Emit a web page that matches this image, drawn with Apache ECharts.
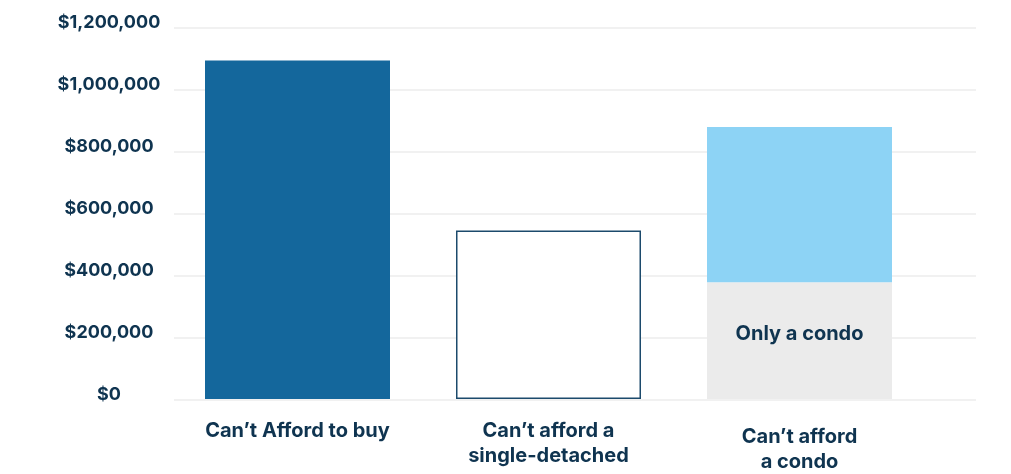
<!DOCTYPE html>
<html>
<head>
<meta charset="utf-8">
<script src="https://cdn.jsdelivr.net/npm/echarts@6/dist/echarts.min.js"></script>
<style>
  html, body { margin: 0; padding: 0; background: #ffffff; }
  #chart { width: 1011px; height: 474px; }
</style>
</head>
<body>
<div id="chart"></div>
<script>
// Affordability thresholds by buyer group
const categories = ["Can’t Afford to buy", "Can’t afford a\nsingle-detached", "Can’t afford\na condo"];
const baseValues = [1095000, 545000, 378000];   // lower segment of each bar
const condoGap = [null, null, 502000];           // upper segment stacked on the condo bar
const insideLabels = ["", "", "Only a condo"];
const yTicks = [0, 200000, 400000, 600000, 800000, 1000000, 1200000];

const yMin = yTicks[0];
const yMax = yTicks[yTicks.length - 1];
const yStep = yTicks[1] - yTicks[0];

const navy = '#0f3450';
const fontFamily = 'Inter, "Noto Sans", sans-serif';

function money(v) {
  return '$' + v.toLocaleString('en-US');
}

const baseStyles = [
  { color: '#14679c' },
  { color: '#ffffff', borderColor: '#1c4a6c', borderWidth: 1.5 },
  { color: '#ebebeb' }
];

const chart = echarts.init(document.getElementById('chart'), null, { renderer: 'canvas' });

chart.setOption({
  backgroundColor: '#ffffff',
  animation: false,
  grid: [
    { left: 174, right: 35, top: 28, bottom: 74 },
    { left: 172, width: 753, top: 28, bottom: 74 }
  ],
  xAxis: [
    { type: 'value', gridIndex: 0, min: 0, max: 1, show: false },
    {
      type: 'category',
      gridIndex: 1,
      data: categories.map((c, i) => i === 2
        ? { value: c, textStyle: { padding: [6, 0, 0, 0] } }
        : c),
      axisLine: { show: false },
      axisTick: { show: false },
      axisLabel: {
        color: navy,
        fontFamily: fontFamily,
        fontWeight: 700,
        fontSize: 20,
        lineHeight: 25,
        margin: 19,
        interval: 0
      }
    }
  ],
  yAxis: [
    {
      type: 'value',
      gridIndex: 0,
      min: yMin,
      max: yMax,
      interval: yStep,
      axisLine: { show: false },
      axisTick: { show: false },
      splitLine: { lineStyle: { color: '#ececec', width: 1.5 } },
      axisLabel: {
        color: navy,
        fontFamily: fontFamily,
        fontWeight: 700,
        fontSize: 18,
        align: 'center',
        verticalAlign: 'bottom',
        lineHeight: 10,
        margin: 65,
        formatter: money
      }
    },
    { type: 'value', gridIndex: 1, min: yMin, max: yMax, interval: yStep, show: false }
  ],
  series: [
    {
      type: 'bar',
      xAxisIndex: 1,
      yAxisIndex: 1,
      stack: 'price',
      barWidth: 185,
      data: baseValues.map((v, i) => ({
        value: v,
        itemStyle: baseStyles[i],
        label: {
          show: insideLabels[i] !== '',
          position: 'inside',
          offset: [0, -7],
          formatter: insideLabels[i],
          color: navy,
          fontFamily: fontFamily,
          fontWeight: 700,
          fontSize: 20
        }
      }))
    },
    {
      type: 'bar',
      xAxisIndex: 1,
      yAxisIndex: 1,
      stack: 'price',
      barWidth: 185,
      itemStyle: { color: '#8dd3f5' },
      data: condoGap
    }
  ]
});
</script>
</body>
</html>
